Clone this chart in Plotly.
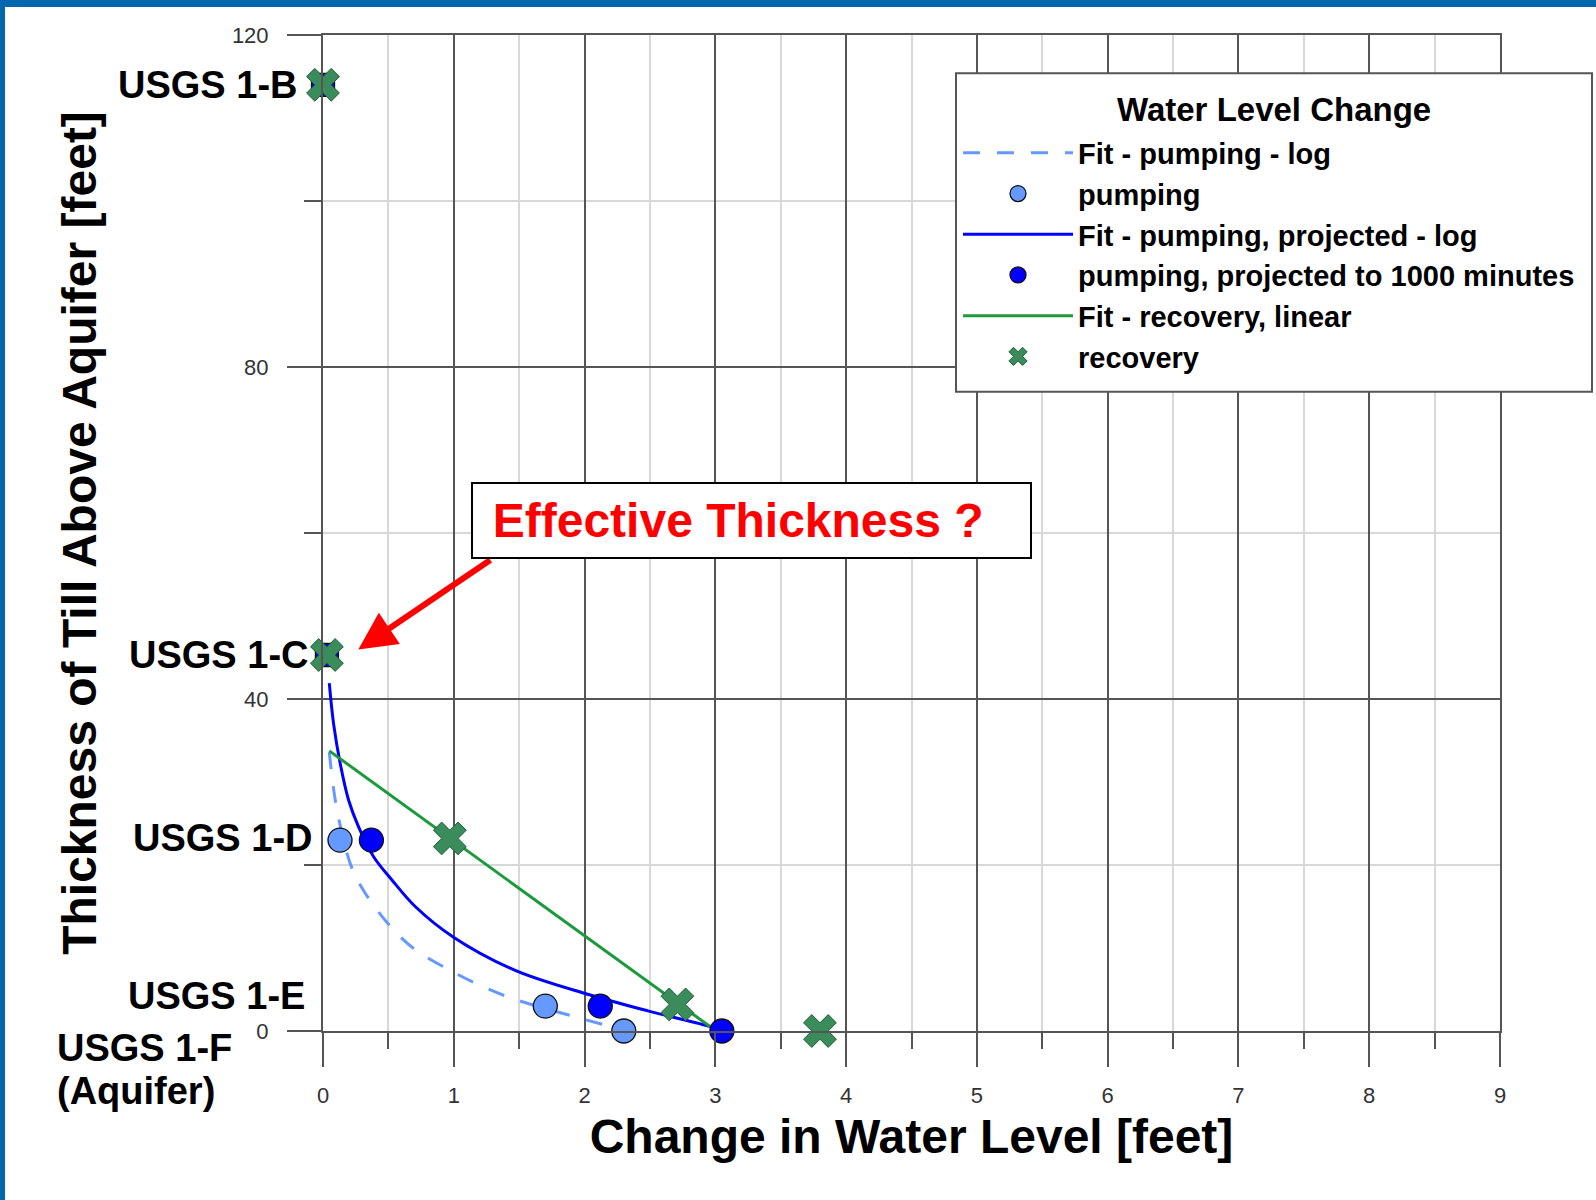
import plotly.graph_objects as go

# ---------------- data ----------------
# measured points: change in water level [ft] vs thickness of till above aquifer [ft]
pump_x = [0.13, 1.70, 2.30]
pump_y = [23.0, 3.0, 0.0]
proj_x = [0.37, 2.12, 3.05]
proj_y = [23.0, 3.0, 0.0]
rec_x = [0.0, 0.03, 0.97, 2.71, 3.80]
rec_y = [114.0, 45.3, 23.2, 3.2, 0.0]
upper_x = [0.0, 0.03]          # square markers behind the upper wells
upper_y = [114.0, 45.3]

# fitted curves
fit_pump_x = [0.048, 0.094, 0.158, 0.222, 0.323, 0.527, 0.705, 0.96, 1.215, 1.47, 1.93, 2.18, 2.30]
fit_pump_y = [33.6, 27.8, 23.0, 19.6, 16.6, 12.4, 9.8, 7.4, 5.4, 3.8, 1.7, 0.6, 0.0]
fit_proj_x = [0.048, 0.081, 0.132, 0.196, 0.272, 0.387, 0.527, 0.705, 0.998, 1.47, 2.03, 2.49, 2.97, 3.05]
fit_proj_y = [41.9, 37.0, 32.2, 27.8, 24.6, 21.0, 18.2, 15.0, 11.3, 7.3, 4.4, 2.4, 0.5, 0.0]
fit_rec_x = [0.048, 2.98]
fit_rec_y = [33.75, 0.3]

legend_title = "Water Level Change"
series_names = [
    "Fit - pumping - log",
    "pumping",
    "Fit - pumping, projected - log",
    "pumping, projected to 1000 minutes",
    "Fit - recovery, linear",
    "recovery",
]
well_labels = ["USGS 1-B", "USGS 1-C", "USGS 1-D", "USGS 1-E", "USGS 1-F", "(Aquifer)"]
x_ticks = list(range(10))
y_ticks = [0, 40, 80, 120]

# ---------------- layout geometry ----------------
W, H = 1596, 1200
ML, MR, MT, MB = 323, 96, 35, 169
PW, PH = W - ML - MR, H - MT - MB


def px(x):
    return (x - ML) / PW


def py(y):
    return (H - MB - y) / PH


FONT = "Liberation Sans, Arial, Helvetica, sans-serif"
LIGHT = "#6699FF"
BLUE = "#0000FF"
GREEN_LINE = "#1A9A3A"
GREEN_X = "#3A8C5A"
MAJOR = "#555555"
MINOR = "#D8D8D8"

fig = go.Figure()

fig.add_trace(go.Scatter(x=fit_pump_x, y=fit_pump_y, mode="lines", name=series_names[0],
                         line=dict(color=LIGHT, width=3, dash="17px,17px", shape="spline"),
                         legendrank=1))
fig.add_trace(go.Scatter(x=fit_proj_x, y=fit_proj_y, mode="lines", name=series_names[2],
                         line=dict(color=BLUE, width=3, shape="spline"), legendrank=3))
fig.add_trace(go.Scatter(x=fit_rec_x, y=fit_rec_y, mode="lines", name=series_names[4],
                         line=dict(color=GREEN_LINE, width=3), legendrank=5))
fig.add_trace(go.Scatter(x=pump_x, y=pump_y, mode="markers", name=series_names[1],
                         marker=dict(symbol="circle", size=24, color=LIGHT,
                                     line=dict(color="#111111", width=1.3)),
                         cliponaxis=False, legendrank=2))
fig.add_trace(go.Scatter(x=proj_x, y=proj_y, mode="markers", name=series_names[3],
                         marker=dict(symbol="circle", size=24, color=BLUE,
                                     line=dict(color="#111111", width=1.3)),
                         cliponaxis=False, legendrank=4))
fig.add_trace(go.Scatter(x=upper_x, y=upper_y, mode="markers", showlegend=False,
                         marker=dict(symbol="square", size=23, color=BLUE,
                                     line=dict(color="#111111", width=1.3)),
                         cliponaxis=False))
fig.add_trace(go.Scatter(x=rec_x, y=rec_y, mode="markers", name=series_names[5],
                         marker=dict(symbol="x", size=29, color=GREEN_X,
                                     line=dict(color="#1E5E38", width=1)),
                         cliponaxis=False, legendrank=6))

# ---------------- annotations ----------------
annotations = []
# arrow first (box drawn over its tail)
annotations.append(dict(xref="paper", yref="paper", x=px(358.3), y=py(649.4), text="",
                        showarrow=True, arrowhead=2, arrowsize=1.25, arrowwidth=6,
                        arrowcolor="#FF0000", ax=133.5, ay=-90.4, axref="pixel", ayref="pixel"))
annotations.append(dict(xref="paper", yref="paper", x=px(751.5), y=py(520.3),
                        xanchor="center", yanchor="middle",
                        text="Effective Thickness ?\u00a0\u00a0", showarrow=False,
                        font=dict(family=FONT, size=48, color="#FF0000", weight="bold"),
                        bgcolor="white", bordercolor="black", borderwidth=2, borderpad=2,
                        width=553, height=69, align="center", valign="middle"))
# legend title (legend frame drawn as a shape so the title spacing matches)
annotations.append(dict(xref="paper", yref="paper", x=px(1274), y=py(109.3),
                        xanchor="center", yanchor="middle", text=legend_title, showarrow=False,
                        font=dict(family=FONT, size=33, color="black", weight="bold")))

label_pos = [  # (anchor x px, centre y px, xanchor)
    (299, 85.5, "right"),
    (310, 655.0, "right"),
    (314, 837.5, "right"),
    (307, 996.0, "right"),
    (55, 1047.5, "left"),
    (55, 1091.0, "left"),
]
for lab, (lx, ly, xa) in zip(well_labels, label_pos):
    annotations.append(dict(xref="paper", yref="paper", x=px(lx), y=py(ly), text=lab,
                            xanchor=xa, yanchor="middle", showarrow=False,
                            font=dict(family=FONT, size=38, color="black", weight="bold")))

# ---------------- shapes ----------------
shapes = [
    # white "shadow" behind the callout box that hides gridlines
    dict(type="rect", xref="paper", yref="paper", x0=px(471), x1=px(1051), y0=py(567), y1=py(482),
         fillcolor="white", line=dict(width=0), layer="between"),
    # legend frame
    dict(type="rect", xref="paper", yref="paper", x0=px(956), x1=px(1592), y0=py(391.7), y1=py(73.3),
         fillcolor="white", line=dict(color="#555555", width=2), layer="above"),
    # blue frame edges (top and left)
    dict(type="rect", xref="paper", yref="paper", x0=px(0), x1=px(W), y0=py(7), y1=py(0),
         fillcolor="#0066AD", line=dict(width=0), layer="above"),
    dict(type="rect", xref="paper", yref="paper", x0=px(0), x1=px(5), y0=py(H), y1=py(0),
         fillcolor="#0066AD", line=dict(width=0), layer="above"),
]

fig.update_layout(
    width=W, height=H,
    margin=dict(l=ML, r=MR, t=MT, b=MB, autoexpand=False),
    template="none",
    paper_bgcolor="white", plot_bgcolor="white",
    font=dict(family=FONT, color="black"),
    annotations=annotations,
    shapes=shapes,
    showlegend=True,
    legend=dict(
        x=px(958), y=py(127.5), xanchor="left", yanchor="top",
        bgcolor="rgba(0,0,0,0)", borderwidth=0,
        font=dict(family=FONT, size=29, color="black", weight="bold"),
        itemwidth=110, traceorder="normal",
    ),
    xaxis=dict(
        range=[0, 9], tickmode="array", tickvals=x_ticks, ticktext=[str(t) for t in x_ticks],
        showgrid=True, gridcolor=MAJOR, gridwidth=2, zeroline=False,
        showline=True, linecolor=MAJOR, linewidth=2, mirror=True,
        ticks="outside", ticklen=34, tickwidth=2, tickcolor=MAJOR,
        tickfont=dict(family=FONT, size=22, color="#333333"), ticklabelstandoff=10,
        minor=dict(dtick=0.5, tick0=0, ticks="outside", ticklen=16, tickwidth=2, tickcolor=MAJOR,
                   showgrid=True, gridcolor=MINOR, gridwidth=2),
        title=dict(text="Change in Water Level [feet]", standoff=12,
                   font=dict(family=FONT, size=48, color="black", weight="bold")),
        automargin=False,
    ),
    yaxis=dict(
        range=[0, 120], tickmode="array", tickvals=y_ticks, ticktext=[str(t) for t in y_ticks],
        showgrid=True, gridcolor=MAJOR, gridwidth=2, zeroline=False,
        showline=True, linecolor=MAJOR, linewidth=2, mirror=True,
        ticks="outside", ticklen=34, tickwidth=2, tickcolor=MAJOR,
        tickfont=dict(family=FONT, size=22, color="#333333"), ticklabelstandoff=14,
        minor=dict(dtick=20, tick0=0, ticks="outside", ticklen=17, tickwidth=2, tickcolor=MAJOR,
                   showgrid=True, gridcolor=MINOR, gridwidth=2),
        title=dict(text="Thickness of Till Above Aquifer [feet]", standoff=120,
                   font=dict(family=FONT, size=48, color="black", weight="bold")),
        automargin=False,
    ),
)

fig.write_html("out.html")
